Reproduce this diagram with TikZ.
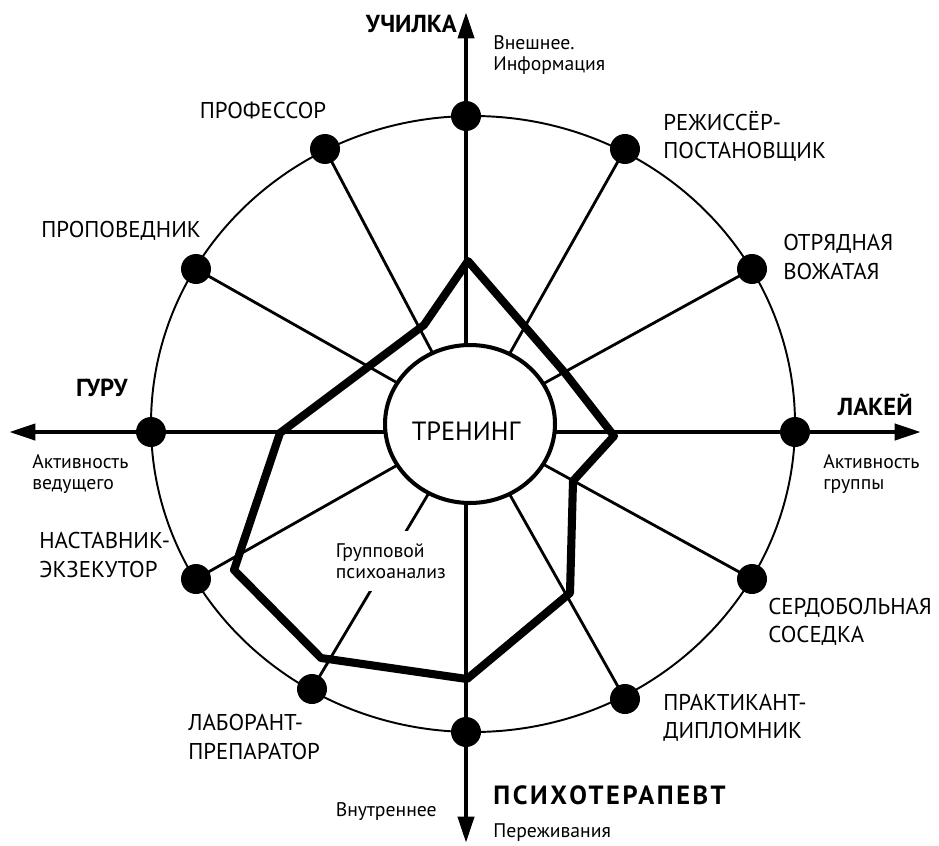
\documentclass[tikz,border=0pt]{standalone}
\usepackage{fontspec}
\setmainfont{PT Sans}
\usetikzlibrary{arrows.meta,shapes.geometric}

\tikzset{
  rim/.style={line width=1.1pt},
  spoke/.style={line width=1.6pt},
  axis/.style={line width=2.6pt},
  tip/.tip={Triangle[length=15pt,width=9pt]},
  profile/.style={line width=4.6pt, line join=round},
  hub/.style={ellipse, draw, line width=2.3pt, fill=white,
    minimum width=3.4cm, minimum height=3.16cm, inner sep=0},
  dot/.style={circle, fill=black, inner sep=0, minimum size=0.6cm},
  role/.style={font=\fontsize{13}{16}\selectfont, align=left, inner sep=0},
  pole/.style={font=\fontsize{14}{16}\selectfont\bfseries, inner sep=0},
  note/.style={font=\fontsize{11.2}{12}\selectfont, align=left, inner sep=0}
}

\begin{document}
\begin{tikzpicture}[x=0.02cm,y=-0.02cm]
  \fill[white] (0,0) rectangle (939,845);
  \useasboundingbox (0,0) rectangle (939,845);

  % Centre of the wheel
  \coordinate (c) at (470,424);
  % Points on the rim
  \coordinate (uch) at (466,116);
  \coordinate (reg) at (625,149);
  \coordinate (otr) at (752,269);
  \coordinate (lak) at (795,432);
  \coordinate (ser) at (752,579);
  \coordinate (pra) at (625,699);
  \coordinate (psy) at (466,732);
  \coordinate (lab) at (312,689);
  \coordinate (nas) at (196,579);
  \coordinate (gur) at (151,432);
  \coordinate (pro) at (196,269);
  \coordinate (prf) at (325,149);
  % Arrow ends
  \coordinate (n) at (466,12);
  \coordinate (s) at (466,843);
  \coordinate (w) at (9,432);
  \coordinate (e) at (921,432);

  % Outer circle
  \draw[rim] (473,424) ellipse [x radius=322, y radius=308];

  % Spokes
  \foreach \p in {reg,otr,ser,pra,lab,nas,pro,prf}{
    \draw[spoke] (\p) -- (c);
  }
  \node[note, fill=white, inner xsep=2pt, inner ysep=7pt, anchor=west]
    (grp) at (332,561) {Групповой\\психоанализ};

  % Axes
  \draw[axis, tip-tip] (w) -- (e);
  \draw[axis, tip-tip] (n) -- (s);

  % Profile of the trainer
  \coordinate (q1) at (468,261);
  \coordinate (q2) at (424,325);
  \coordinate (q3) at (280,433);
  \coordinate (q4) at (234,570);
  \coordinate (q5) at (321,658);
  \coordinate (q6) at (467,679);
  \coordinate (q7) at (570,593);
  \coordinate (q8) at (573,481);
  \coordinate (q9) at (614,436);
  \coordinate (q10) at (565,373);
  \draw[profile] (q1) -- (q2) -- (q3) -- (q4) -- (q5) -- (q6) -- (q7)
    -- (q8) -- (q9) -- (q10) -- cycle;

  % Inner circle
  \node[hub] (hub) at (c) {};
  \node[font=\fontsize{15}{18}\selectfont, inner sep=0] (tr) at (466,431) {ТРЕНИНГ};

  % Dots
  \foreach \p in {uch,reg,otr,lak,ser,pra,psy,lab,nas,gur,pro,prf}{
    \node[dot] (d-\p) at (\p) {};
  }

  % Poles of the axes
  \node[pole, anchor=east] (l-uch) at (457,24) {УЧИЛКА};
  \node[note, anchor=west] (t-uch) at (493,55) {Внешнее.\\Информация};
  \node[pole, anchor=east] (l-gur) at (128,388) {ГУРУ};
  \node[note, anchor=west] (t-gur) at (32,474) {Активность\\ведущего};
  \node[pole, anchor=east] (l-lak) at (913,405) {ЛАКЕЙ};
  \node[note, anchor=west] (t-lak) at (823,474) {Активность\\группы};
  \node[pole, anchor=west, font=\fontsize{15}{16}\selectfont\bfseries\addfontfeatures{LetterSpace=10}]
    (l-psy) at (493,795) {ПСИХОТЕРАПЕВТ};
  \node[note, anchor=east] (t-in) at (437,812) {Внутреннее};
  \node[note, anchor=west] (t-psy) at (493,833) {Переживания};

  % Roles on the rim
  \node[role, anchor=center] (l-prf) at (263,111) {ПРОФЕССОР};
  \node[role, anchor=west] (l-reg) at (663,136) {РЕЖИССЁР-\\ПОСТАНОВЩИК};
  \node[role, anchor=west] (l-pro) at (41,231) {ПРОПОВЕДНИК};
  \node[role, anchor=west] (l-otr) at (783,257) {ОТРЯДНАЯ\\ВОЖАТАЯ};
  \node[role, anchor=west] (l-nas) at (39,555) {НАСТАВНИК-\\ЭКЗЕКУТОР};
  \node[role, anchor=west] (l-ser) at (768,622) {СЕРДОБОЛЬНАЯ\\СОСЕДКА};
  \node[role, anchor=west] (l-lab) at (188,737) {ЛАБОРАНТ-\\ПРЕПАРАТОР};
  \node[role, anchor=west] (l-pra) at (663,718) {ПРАКТИКАНТ-\\ДИПЛОМНИК};
\end{tikzpicture}
\end{document}
